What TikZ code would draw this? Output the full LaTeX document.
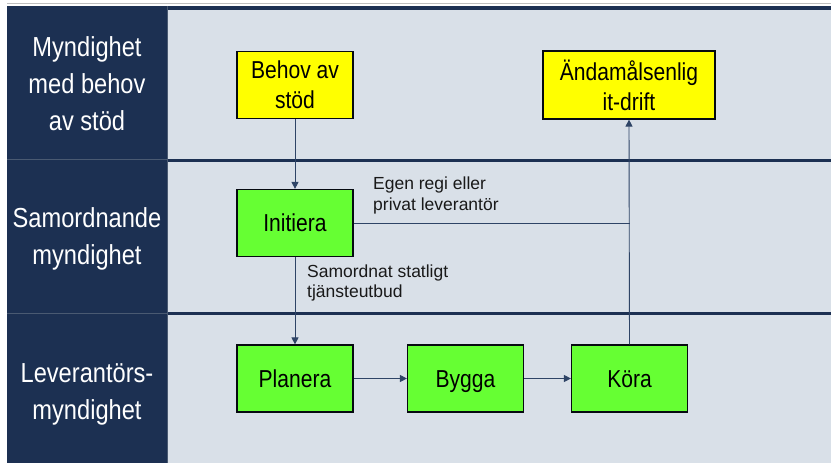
\documentclass[tikz,border=0pt]{standalone}
\usepackage{fontspec}
\setmainfont{Liberation Sans}
\newfontfamily\cond[FakeStretch=0.86]{Liberation Sans}
\usetikzlibrary{arrows.meta}
\definecolor{navy}{HTML}{1C3052}
\definecolor{lanebg}{HTML}{D9E0E8}
\definecolor{ybox}{HTML}{FFFF00}
\definecolor{gbox}{HTML}{66FF33}
\definecolor{conn}{HTML}{2E4466}
\definecolor{cellline}{HTML}{4A5A72}
\tikzset{
 procbox/.style={draw=black!80!navy, line width=1.2pt, minimum width=116pt, minimum height=67pt, inner sep=0pt, align=center, font=\cond\fontsize{24.5}{30}\selectfont},
 oneline/.style={execute at begin node={\rule{0pt}{23pt}}, execute at end node={\rule[-6pt]{0pt}{6pt}}},
 twoline/.style={execute at begin node={\rule{0pt}{23pt}}, execute at end node={\rule[-0.5pt]{0pt}{0.5pt}}},
 lanelabel/.style={text=white, align=center, inner sep=0pt, font=\cond\fontsize{27.5}{37}\selectfont,
   execute at begin node={\rule{0pt}{26pt}}, execute at end node={\rule[-7pt]{0pt}{7pt}}},
 note/.style={align=left, anchor=west, inner sep=0pt, font=\fontsize{17.5}{20.5}\selectfont, text=black!90},
 flow/.style={draw=conn, line width=0.9pt, -{Triangle[length=7pt,width=7pt]}},
 seg/.style={draw=conn, line width=0.9pt}
}
\begin{document}
\begin{tikzpicture}[x=1pt,y=-1pt]
\useasboundingbox (0,0) rectangle (831,463);
\fill[white] (0,0) rectangle (831,463);
\fill[lanebg] (167,6) rectangle (831,463);
\fill[navy] (7,6) rectangle (167,463);
\draw[gray!50, line width=0.8pt] (7,3.5) -- (831,3.5);
\fill[navy] (167,6) rectangle (831,9.5);
\fill[navy] (167,158.5) rectangle (831,162);
\fill[navy] (167,311.5) rectangle (831,315);
\draw[cellline, line width=0.8pt] (7,159.5) -- (167,159.5);
\draw[cellline, line width=0.8pt] (7,313) -- (167,313);
\draw[cellline, line width=0.6pt] (167,6) -- (167,463);

% lane labels
\node[lanelabel] (l1) at (87,87) {Myndighet\\med behov\\av stöd};
\node[lanelabel] (l2) at (87,240) {Samordnande\\myndighet};
\node[lanelabel] (l3) at (87,395.5) {Leverantörs-\\myndighet};

% boxes
\node[procbox, twoline, fill=ybox] (beh) at (295,85) {Behov av\\stöd};
\node[procbox, twoline, fill=ybox, minimum width=172pt, minimum height=68pt] (and) at (629,85) {Ändamålsenlig\\it-drift};
\node[procbox, oneline, fill=gbox] (ini) at (295,223) {Initiera};
\node[procbox, oneline, fill=gbox] (pla) at (295,378.5) {Planera};
\node[procbox, oneline, fill=gbox] (byg) at (465.5,378.5) {Bygga};
\node[procbox, oneline, fill=gbox] (kor) at (629.5,378.5) {Köra};

% connectors
\coordinate (j) at (kor.north |- ini.east);
\draw[flow] (beh.south) -- (ini.north);
\draw[flow] (ini.south) -- (pla.north);
\draw[flow] (pla.east) -- (byg.west);
\draw[flow] (byg.east) -- (kor.west);
\draw[flow] (kor.north) -- (and.south);
\draw[seg] (ini.east) -- (j);

% notes
\node[note] (n1) at (373,195.5) {Egen regi eller\\privat leverantör};
\node[note] (n2) at (307,283) {Samordnat statligt\\tjänsteutbud};
\end{tikzpicture}
\end{document}
